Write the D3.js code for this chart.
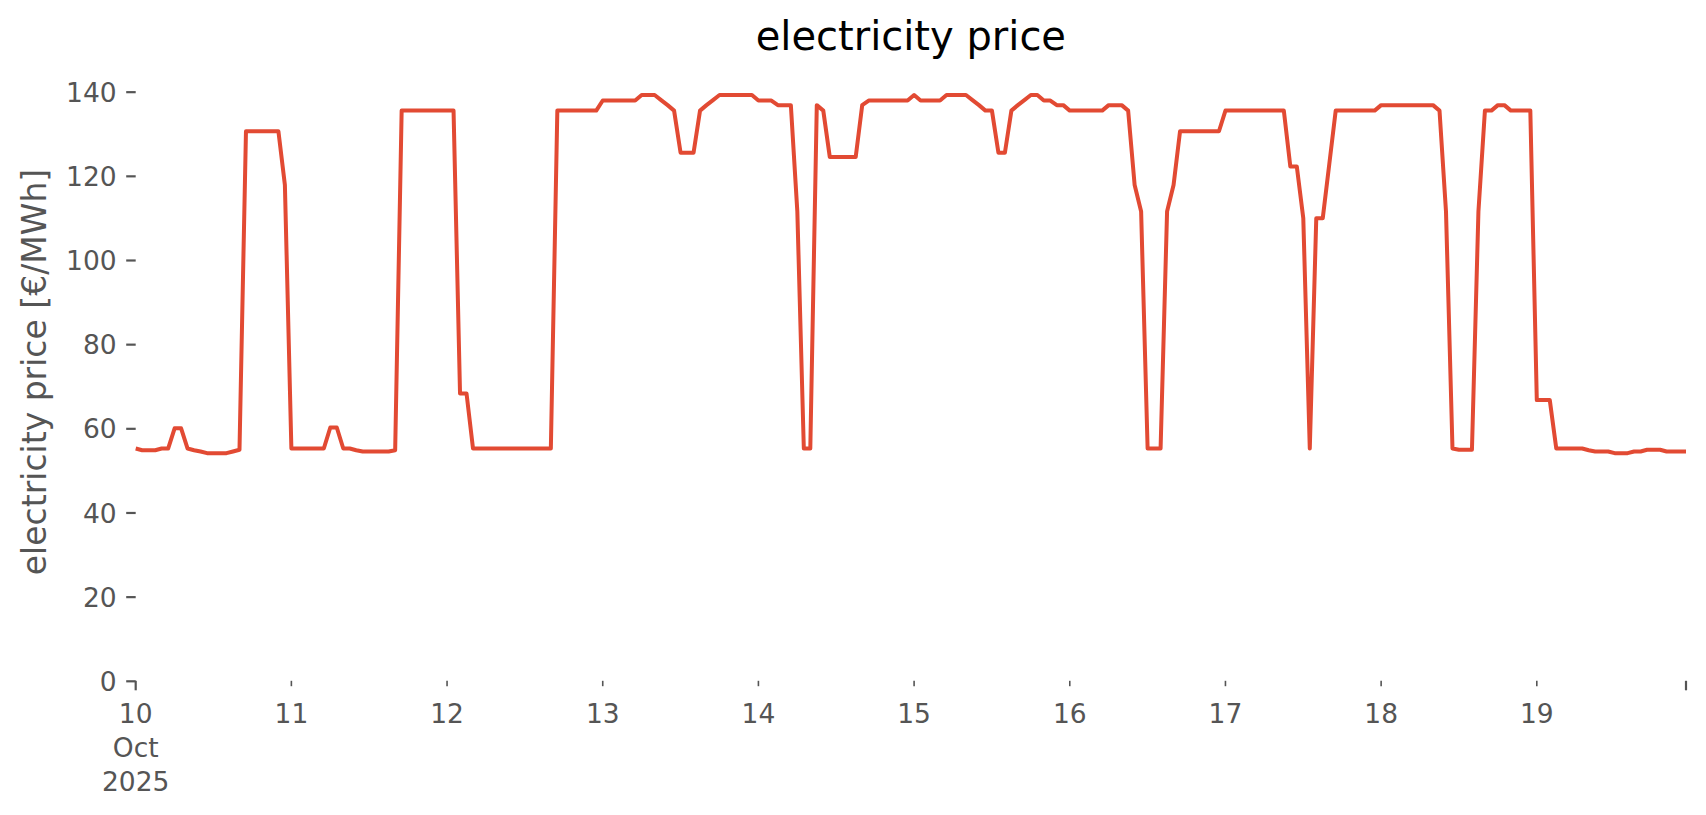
<!DOCTYPE html>
<html><head><meta charset="utf-8">
<script src="https://cdn.jsdelivr.net/npm/d3@7"></script>
<style>body{margin:0;background:#fff}svg{display:block}</style>
</head><body><svg id="c" width="1706" height="815"></svg>
<script>
// ---- data ----
const startYear = 2025, startMonth = 9, startDay = 10; // 10 Oct 2025, hourly series
const prices = [
  // Oct 10
  55.2, 54.8, 54.8, 54.8, 55.2, 55.2, 60.0, 60.0, 55.2, 54.8, 54.5, 54.1,
  54.1, 54.1, 54.1, 54.5, 54.9, 130.6, 130.6, 130.6, 130.6, 130.6, 130.6, 117.8,
  // Oct 11
  55.2, 55.2, 55.2, 55.2, 55.2, 55.2, 60.2, 60.2, 55.2, 55.2, 54.8, 54.5,
  54.5, 54.5, 54.5, 54.5, 54.8, 135.5, 135.5, 135.5, 135.5, 135.5, 135.5, 135.5,
  // Oct 12
  135.5, 135.5, 68.3, 68.3, 55.2, 55.2, 55.2, 55.2, 55.2, 55.2, 55.2, 55.2,
  55.2, 55.2, 55.2, 55.2, 55.2, 135.5, 135.5, 135.5, 135.5, 135.5, 135.5, 135.5,
  // Oct 13
  137.9, 137.9, 137.9, 137.9, 137.9, 137.9, 139.2, 139.2, 139.2, 138.0, 136.8, 135.5,
  125.5, 125.5, 125.5, 135.5, 136.8, 138.0, 139.2, 139.2, 139.2, 139.2, 139.2, 139.2,
  // Oct 14
  137.9, 137.9, 137.9, 136.8, 136.8, 136.8, 111.5, 55.2, 55.2, 136.8, 135.5, 124.5,
  124.5, 124.5, 124.5, 124.5, 136.8, 137.9, 137.9, 137.9, 137.9, 137.9, 137.9, 137.9,
  // Oct 15
  139.2, 137.9, 137.9, 137.9, 137.9, 139.2, 139.2, 139.2, 139.2, 138.0, 136.8, 135.5,
  135.5, 125.5, 125.5, 135.5, 136.8, 138.0, 139.2, 139.2, 137.9, 137.9, 136.8, 136.8,
  // Oct 16
  135.5, 135.5, 135.5, 135.5, 135.5, 135.5, 136.8, 136.8, 136.8, 135.5, 117.8, 111.5,
  55.2, 55.2, 55.2, 111.5, 117.8, 130.6, 130.6, 130.6, 130.6, 130.6, 130.6, 130.6,
  // Oct 17
  135.5, 135.5, 135.5, 135.5, 135.5, 135.5, 135.5, 135.5, 135.5, 135.5, 122.2, 122.2,
  109.9, 55.2, 109.9, 109.9, 122.7, 135.5, 135.5, 135.5, 135.5, 135.5, 135.5, 135.5,
  // Oct 18
  136.8, 136.8, 136.8, 136.8, 136.8, 136.8, 136.8, 136.8, 136.8, 135.5, 111.5, 55.2,
  54.9, 54.9, 54.9, 111.5, 135.5, 135.5, 136.8, 136.8, 135.5, 135.5, 135.5, 135.5,
  // Oct 19
  66.7, 66.7, 66.7, 55.2, 55.2, 55.2, 55.2, 55.2, 54.8, 54.5, 54.5, 54.5,
  54.1, 54.1, 54.1, 54.5, 54.5, 54.9, 54.9, 54.9, 54.5, 54.5, 54.5, 54.5
];
const yTicks = [0, 20, 40, 60, 80, 100, 120, 140];
const xTickDays = [10, 11, 12, 13, 14, 15, 16, 17, 18, 19];
const xTickLabels = [["10", "Oct", "2025"], ["11"], ["12"], ["13"], ["14"], ["15"], ["16"], ["17"], ["18"], ["19"]];
const titleText = "electricity price";
const yLabelText = "electricity price [€/MWh]";

// ---- chart ----
const svg = d3.select("#c");
svg.append("rect").attr("width", 1706).attr("height", 815).attr("fill", "#fff");
const FONT = "DejaVu Sans";
const GREY = "#555555";

const start = new Date(startYear, startMonth, startDay, 0);
const series = prices.map((v, i) => ({ t: d3.timeHour.offset(start, i), v }));
const end = series[series.length - 1].t;

const x = d3.scaleTime().domain([start, end]).range([135.7, 1686]);
const y = d3.scaleLinear().domain([0, 140]).range([680.8, 91.67]);

// y axis
const yAxis = d3.axisLeft(y).tickValues(yTicks).tickSize(9.5).tickPadding(9.5).tickFormat(d3.format("d"));
const gy = svg.append("g").attr("transform", `translate(${x.range()[0]},0)`).call(yAxis);
gy.select(".domain").remove();
gy.selectAll(".tick line").attr("stroke", GREY).attr("stroke-width", 2.2);
gy.selectAll(".tick text").attr("fill", GREY).attr("font-family", FONT).attr("font-size", 26.5).attr("dy", "0.36em");

// x axis: minor day ticks, major at start and end
const dayDates = xTickDays.map(d => new Date(startYear, startMonth, d));
const gx = svg.append("g").attr("transform", `translate(0,${y(0)})`);
gx.selectAll("line.minor").data(dayDates.slice(1)).join("line")
  .attr("x1", d => x(d)).attr("x2", d => x(d)).attr("y1", 0).attr("y2", 5.4)
  .attr("stroke", GREY).attr("stroke-width", 1.6);
gx.selectAll("line.major").data([start, end]).join("line")
  .attr("x1", d => x(d)).attr("x2", d => x(d)).attr("y1", 0).attr("y2", 9.5)
  .attr("stroke", GREY).attr("stroke-width", 2.2);
const lbl = gx.selectAll("text.xl").data(dayDates).join("text")
  .attr("text-anchor", "middle").attr("fill", GREY).attr("font-family", FONT).attr("font-size", 26.5)
  .attr("transform", d => `translate(${x(d)},0)`);
lbl.each(function (d, i) {
  const t = d3.select(this);
  xTickLabels[i].forEach((s, k) => t.append("tspan").attr("x", 0).attr("y", 42.5 + 34 * k).text(s));
});

// line
const line = d3.line().x(d => x(d.t)).y(d => y(d.v));
svg.append("path").datum(series).attr("d", line).attr("fill", "none")
  .attr("stroke", "#E24A33").attr("stroke-width", 4).attr("stroke-linejoin", "round").attr("stroke-linecap", "butt");

// title
svg.append("text").attr("x", (x.range()[0] + x.range()[1]) / 2).attr("y", 50)
  .attr("text-anchor", "middle").attr("font-family", FONT).attr("font-size", 40).attr("fill", "#000").text(titleText);

// y label
svg.append("text").attr("transform", `translate(46,372) rotate(-90)`)
  .attr("text-anchor", "middle").attr("font-family", FONT).attr("font-size", 33).attr("fill", GREY).text(yLabelText);
</script>
</body></html>
